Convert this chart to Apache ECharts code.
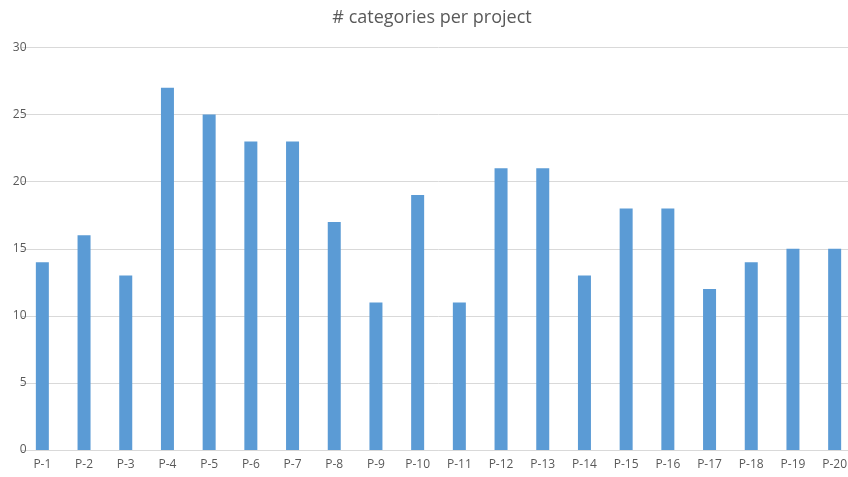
<!DOCTYPE html>
<html><head><meta charset="utf-8">
<script src="https://cdn.jsdelivr.net/npm/echarts@6/dist/echarts.min.js"></script>
<style>html,body{margin:0;padding:0;background:#fff;overflow:hidden}#c{width:858px;height:477px}</style>
</head><body><div id="c"></div>
<script>
const categories = ["P-1","P-2","P-3","P-4","P-5","P-6","P-7","P-8","P-9","P-10","P-11","P-12","P-13","P-14","P-15","P-16","P-17","P-18","P-19","P-20"];
const values = [14,16,13,27,25,23,23,17,11,19,11,21,21,13,18,18,12,14,15,15];
const chart = echarts.init(document.getElementById('c'));
chart.setOption({
  animation:false,
  title:{text:'# categories per project',left:427,textAlign:'center',top:4,
    textStyle:{fontFamily:'Open Sans',fontSize:18,fontWeight:'normal',color:'#595959'}},
  grid:{left:21.5,top:47.5,width:834,height:402.5,containLabel:false},
  xAxis:{type:'category',data:categories,
    axisLine:{lineStyle:{color:'#d9d9d9'}},axisTick:{show:false},
    axisLabel:{color:'#595959',fontFamily:'Open Sans',fontSize:12,margin:9}},
  yAxis:{type:'value',min:0,max:30,interval:5,
    axisLine:{show:false},axisTick:{show:false},
    splitLine:{lineStyle:{color:'#d9d9d9'}},
    axisLabel:{color:'#595959',fontFamily:'Open Sans',fontSize:12,margin:-5}},
  series:[{type:'bar',data:values,barWidth:13,itemStyle:{color:'#5b9bd5'}}]
});
</script></body></html>
